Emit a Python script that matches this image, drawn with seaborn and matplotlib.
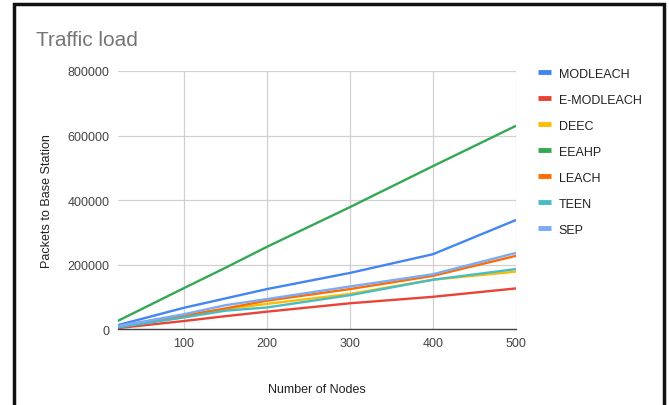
import matplotlib
matplotlib.use("Agg")
import matplotlib.pyplot as plt
import matplotlib.patches as mpatches
import seaborn as sns
import pandas as pd

nodes = [20, 100, 150, 200, 300, 400, 500]

modleach = [12000, 66000, 95000, 124000, 174000, 232000, 338000]
e_modleach = [3000, 25000, 40000, 54000, 80000, 100000, 126000]
deec = [8000, 43000, 62000, 78000, 109000, 153000, 178000]
eeahp = [25000, 127000, 190000, 255000, 378000, 505000, 630000]
leach = [6000, 41000, 64000, 88000, 124000, 165000, 227000]
teen = [5000, 36000, 57000, 67000, 105000, 153000, 186000]
sep = [9000, 46000, 74000, 93000, 132000, 170000, 236000]

series_names = ["MODLEACH", "E-MODLEACH", "DEEC", "EEAHP", "LEACH", "TEEN", "SEP"]
series_values = [modleach, e_modleach, deec, eeahp, leach, teen, sep]
colors = ["#4285F4", "#EA4335", "#FBBC04", "#34A853", "#FF6D01", "#46BDC6", "#7BAAF7"]

y_ticks = [0, 200000, 400000, 600000, 800000]
x_ticks = [100, 200, 300, 400, 500]

rows = []
for name, vals in zip(series_names, series_values):
    for n, v in zip(nodes, vals):
        rows.append({"Nodes": n, "Packets": v, "Series": name})
df = pd.DataFrame(rows)

sns.set_theme(style="white")
plt.rcParams["font.family"] = ["Liberation Sans", "DejaVu Sans"]

fig = plt.figure(figsize=(6.7, 4.06), dpi=100)
ax = fig.add_axes([0.1755, 0.187, 0.5945, 0.6357])

sns.lineplot(data=df, x="Nodes", y="Packets", hue="Series",
             hue_order=series_names, palette=colors, linewidth=1.7,
             ax=ax, legend=False, estimator=None, sort=True)

ax.set_xlim(20, 500)
ax.set_ylim(0, 800000)
ax.set_xticks(x_ticks)
ax.set_yticks(y_ticks)
ax.set_xticklabels([str(t) for t in x_ticks], fontsize=9, color="#444444")
ax.set_yticklabels([str(t) for t in y_ticks], fontsize=9, color="#444444")
ax.tick_params(axis="both", length=0, pad=6)
ax.grid(True, color="#d0d0d0", linewidth=0.9)
ax.set_axisbelow(True)
for side in ["top", "right", "left"]:
    ax.spines[side].set_visible(False)
ax.spines["bottom"].set_color("#444444")
ax.spines["bottom"].set_linewidth(1.0)

ax.set_xlabel("Number of Nodes", fontsize=9, color="#222222", labelpad=24)
ax.set_ylabel("Packets to Base Station", fontsize=9, color="#222222", labelpad=10)

handles = [plt.Line2D([0], [0], color=c, linewidth=3.5, solid_capstyle="butt")
           for c in colors]
leg = fig.legend(handles, series_names, loc="upper left",
                 bbox_to_anchor=(0.7955, 0.843), frameon=False,
                 fontsize=9, handlelength=1.05, handletextpad=0.62,
                 labelspacing=1.12, borderaxespad=0)
for t in leg.get_texts():
    t.set_color("#222222")

fig.text(0.054, 0.9, "Traffic load", fontsize=15, color="#757575",
         ha="left", va="center")

frame = mpatches.Rectangle((0.0207, -0.05), 0.9705, 1.038,
                           transform=fig.transFigure, fill=False,
                           edgecolor="#111111", linewidth=2.5)
fig.add_artist(frame)

fig.savefig("out.png", dpi=100, facecolor="white")
